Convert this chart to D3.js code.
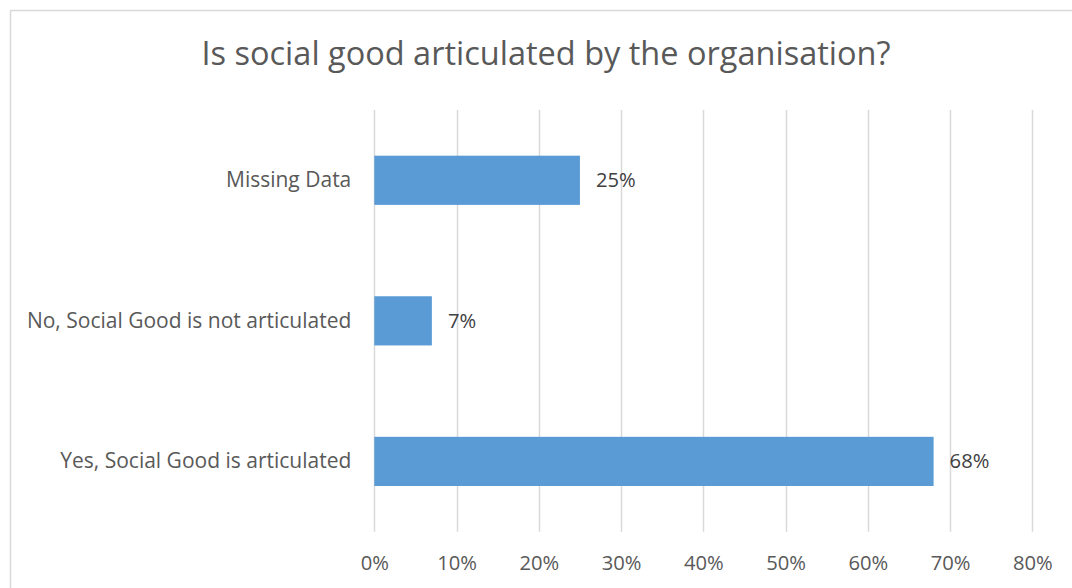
<!DOCTYPE html>
<html>
<head>
<meta charset="utf-8">
<script src="https://cdn.jsdelivr.net/npm/d3@7"></script>
<style>
  html, body { margin: 0; padding: 0; background: #fff; }
  svg { display: block; font-family: "Open Sans", sans-serif; }
</style>
</head>
<body>
<svg id="chart" width="1072" height="588"></svg>
<script>
// Survey answers, top to bottom as drawn
const categories = ["Missing Data", "No, Social Good is not articulated", "Yes, Social Good is articulated"];
const shares = [25, 7, 68];
const tickValues = [0, 10, 20, 30, 40, 50, 60, 70, 80];
const title = "Is social good articulated by the organisation?";

const svg = d3.select("#chart");

// Chart frame
svg.append("rect")
  .attr("x", 10.5).attr("y", 10.5)
  .attr("width", 1071).attr("height", 600)
  .attr("fill", "#fff")
  .attr("stroke", "#d9d9d9")
  .attr("stroke-width", 1.5);

svg.append("text")
  .attr("x", 546).attr("y", 65)
  .attr("text-anchor", "middle")
  .attr("fill", "#595959")
  .attr("font-size", 32.5)
  .text(title);

const plot = { left: 374.3, right: 1032.3, top: 110, bottom: 531.7 };

const x = d3.scaleLinear().domain([0, 80]).range([plot.left, plot.right]);
const y = d3.scaleBand().domain(categories).range([plot.top, plot.bottom])
  .paddingInner(0.65).paddingOuter(0.325);

// Vertical gridlines
svg.append("g")
  .selectAll("line")
  .data(tickValues)
  .join("line")
  .attr("x1", d => Math.round(x(d)) + 0.5)
  .attr("x2", d => Math.round(x(d)) + 0.5)
  .attr("y1", plot.top).attr("y2", plot.bottom)
  .attr("stroke", "#d9d9d9")
  .attr("stroke-width", 1.5);

// Percentage axis along the bottom
const xAxis = d3.axisBottom(x).tickValues(tickValues).tickSize(0).tickPadding(0)
  .tickFormat(d => d + "%");
const gx = svg.append("g").attr("transform", `translate(0,${plot.bottom})`).call(xAxis);
gx.select(".domain").remove();
gx.selectAll("text")
  .attr("dy", null)
  .attr("y", 38.5)
  .attr("font-family", "Open Sans, sans-serif")
  .attr("font-size", 20.2)
  .attr("fill", "#595959");

// Category axis on the left
const yAxis = d3.axisLeft(y).tickSize(0).tickPadding(23);
const gy = svg.append("g").attr("transform", `translate(${plot.left},0)`).call(yAxis);
gy.select(".domain").remove();
gy.selectAll("text")
  .attr("font-family", "Open Sans, sans-serif")
  .attr("font-size", 21)
  .attr("fill", "#595959");

// Bars
const rows = categories.map((c, i) => ({ category: c, value: shares[i] }));
svg.append("g")
  .selectAll("rect")
  .data(rows)
  .join("rect")
  .attr("x", x(0))
  .attr("y", d => y(d.category))
  .attr("width", d => x(d.value) - x(0))
  .attr("height", y.bandwidth())
  .attr("fill", "#5b9bd5");

// Value labels
svg.append("g")
  .selectAll("text")
  .data(rows)
  .join("text")
  .attr("x", d => x(d.value) + 16)
  .attr("y", d => y(d.category) + y.bandwidth() / 2)
  .attr("dy", "0.35em")
  .attr("font-size", 20.2)
  .attr("fill", "#404040")
  .text(d => d.value + "%");
</script>
</body>
</html>
